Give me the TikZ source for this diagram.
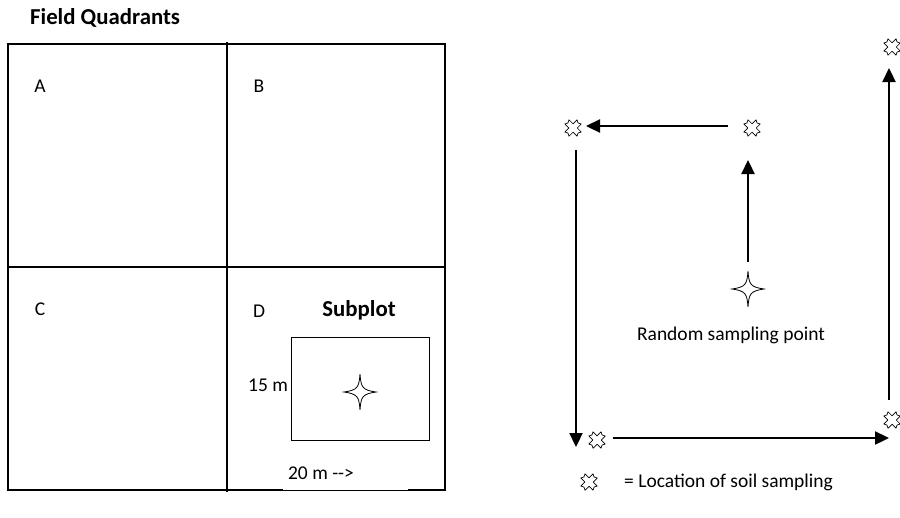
\documentclass[tikz,border=0pt]{standalone}
\usepackage{fontspec}
\setmainfont{Carlito}
\usetikzlibrary{arrows.meta}
\tikzset{
  lbl/.style={inner sep=0pt, font=\fontsize{19.5pt}{23pt}\selectfont},
  blbl/.style={inner sep=0pt, font=\fontsize{22.8pt}{26pt}\selectfont\bfseries},
  field/.style={line width=1.1pt, draw=black},
  walk/.style={line width=2.3pt, -{Triangle[length=14pt,width=13pt]}},
  soil/.pic={
    \draw[line width=0.7pt, fill=white, rotate=45, line join=round]
      (3,8.6) -- (0,7.2) -- (-3,8.6) -- (-3,3) -- (-8.6,3) -- (-7.2,0) -- (-8.6,-3)
      -- (-3,-3) -- (-3,-8.6) -- (0,-7.2) -- (3,-8.6) -- (3,-3) -- (8.6,-3)
      -- (7.2,0) -- (8.6,3) -- (3,3) -- cycle;
  },
  star/.pic={
    \draw[line width=0.8pt, fill=white]
      (0,-18) .. controls (1,-5) and (2,-2) .. (16,0)
      .. controls (2,2) and (1,5) .. (0,18)
      .. controls (-1,5) and (-2,2) .. (-16,0)
      .. controls (-2,-2) and (-1,-5) .. cycle;
  }
}
\begin{document}
\begin{tikzpicture}[x=1pt,y=-1pt]
\useasboundingbox (0,0) rectangle (900,517);
% title
\node[blbl, anchor=west] (title) at (30,18) {Field Quadrants};
% field
\coordinate (fTL) at (8,44);
\coordinate (fBR) at (445,490);
\draw[field] (fTL) rectangle (fBR);
\coordinate (vTop) at (227,42);
\coordinate (vBot) at (227,492);
\draw[field] (vTop) -- (vBot);
\coordinate (hL) at (8,267);
\coordinate (hR) at (445,267);
\draw[field] (hL) -- (hR);
\node[lbl] (A) at (40,86) {A};
\node[lbl] (B) at (259,86) {B};
\node[lbl] (C) at (40,309) {C};
\node[lbl] (D) at (259,311) {D};
\node[blbl] (sub) at (359,310) {Subplot};
\coordinate (sTL) at (291,337);
\coordinate (sBR) at (429,440);
\draw[line width=1pt] (sTL) rectangle (sBR);
\pic at (360,392) {star};
\node[lbl] (fifteen) at (268,385) {15 m};
\node[lbl, fill=white, minimum width=125pt, minimum height=30pt] (twenty) at (345.5,475) {};
\node[lbl] (twentytxt) at (321,473) {20 m -{}-{}>};
% right diagram
\coordinate (cTL) at (573,128);
\coordinate (cTM) at (752,128);
\coordinate (cBL) at (597,440);
\coordinate (cTR) at (892,47);
\coordinate (cBR) at (892,420);
\coordinate (cLeg) at (589,482);
\pic at (cTL) {soil};
\pic at (cTM) {soil};
\pic at (cBL) {soil};
\pic at (cTR) {soil};
\pic at (cBR) {soil};
\pic at (cLeg) {soil};
\coordinate (rsp) at (748,289);
\pic at (rsp) {star};
\coordinate (a1s) at (748,262); \coordinate (a1e) at (748,160);
\coordinate (a2s) at (728,126); \coordinate (a2e) at (586,126);
\coordinate (a3s) at (576,150); \coordinate (a3e) at (576,447);
\coordinate (a4s) at (613,438); \coordinate (a4e) at (889,438);
\coordinate (a5s) at (889,400); \coordinate (a5e) at (889,68);
\draw[walk] (a1s) -- (a1e);
\draw[walk] (a2s) -- (a2e);
\draw[walk] (a3s) -- (a3e);
\draw[walk] (a4s) -- (a4e);
\draw[walk] (a5s) -- (a5e);
\node[lbl] (rand) at (731,335) {Random sampling point};
\node[lbl, anchor=west] (legend) at (624,482) {= Location of soil sampling};
\end{tikzpicture}
\end{document}
